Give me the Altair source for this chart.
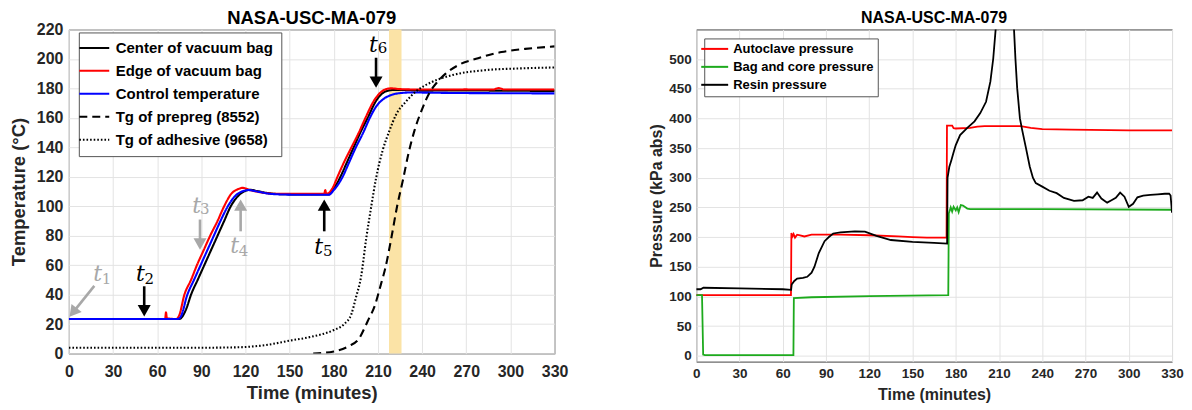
import math
import altair as alt
import pandas as pd

# ---------------- Left panel: temperatures (time in minutes, °C) ----------------
t_center = [0, 30, 60, 75, 77, 80, 83, 87.5, 92, 96.5, 101, 105.5, 110, 115, 120, 123, 128, 135, 145, 160,
            176.5, 180, 184.5, 189, 193.5, 198, 203, 209, 213.5, 217, 222, 240, 270, 300, 330]
T_center = [23.5, 23.5, 23.5, 23.5, 25, 31, 40, 50, 60, 70, 80, 90, 100, 107, 110.5, 111.2, 110.3, 109, 108.2, 108,
            108, 112, 120, 130, 140, 150, 160, 172, 177, 178.5, 179, 178.5, 178.6, 178.4, 178.3]

t_edge = [0, 30, 65.4, 66, 66.6, 73, 75, 78.5, 83, 87, 91.5, 96, 101, 105.5, 110, 116, 118, 123, 130, 140, 150,
          165, 173.5, 174.2, 174.8, 176, 179.5, 182.5, 187, 192, 197, 201.5, 207.5, 211.5, 215, 219, 225, 240,
          270, 288, 292, 296, 330]
T_edge = [23.5, 23.5, 23.5, 28, 24, 23.5, 26, 40, 50, 60, 70, 80, 90, 100, 108, 112, 112.5, 111, 109.5, 108.5, 108.5,
          108.5, 108.5, 111, 108.5, 108.7, 113, 120, 130, 140, 150, 160, 172, 177, 179.3, 180, 179.5, 179.2,
          179.3, 179.2, 180.2, 179.2, 179.2]

t_ctrl = [0, 30, 60, 74, 76, 80.5, 85, 89.5, 94, 98.5, 103, 108, 113, 119, 122, 128, 135, 145, 160, 176.5, 180,
          186, 190.5, 195, 200, 204.5, 209, 214, 219, 225, 232, 260, 300, 330]
T_ctrl = [23.5, 23.5, 23.5, 23.5, 25, 40, 50, 60, 70, 80, 90, 100, 107, 110.5, 111, 110, 108.7, 108, 107.8, 107.8,
          111, 120, 130, 140, 150, 160, 168, 173, 175.5, 176.8, 177.2, 176.9, 176.7, 176.6]

t_tgp = [166, 180, 190, 197, 203, 208, 212, 215, 219, 223, 227, 231, 235, 240, 245, 250, 256, 265, 278, 294, 310, 330]
T_tgp = [0, 1.5, 5, 10, 22, 33, 47, 58, 78, 100, 118, 137, 152, 166, 177, 184, 190, 196, 200.5, 204.7, 206.8, 208.5]

t_tga = [0, 30, 60, 90, 115, 135, 150, 165, 180, 187, 192, 195, 198.5, 202, 205.3, 208.7, 213.2, 217.7, 222.2,
         229, 235.7, 247, 260.5, 283, 305, 330]
T_tga = [4, 4, 4, 4, 4.3, 6, 8.8, 11.5, 16, 20, 27, 38, 52, 78, 99, 119, 138, 151, 162,
         171, 177.8, 184.5, 189, 192.4, 193.5, 194.2]

temp_series = ["Center of vacuum bag", "Edge of vacuum bag", "Control temperature",
               "Tg of prepreg (8552)", "Tg of adhesive (9658)"]

band_start = [217.5]
band_end = [226]

# event arrows t1..t6 (tail and tip, in data units)
arrow_tail_t = [17.3, 51.2, 89.1, 116.7, 173.5, 208.7]
arrow_tail_T = [46, 45.7, 91, 83, 83, 200.8]
arrow_tip_t = [0.5, 51.2, 89.1, 116.7, 173.5, 208.7]
arrow_tip_T = [25, 25.3, 70.6, 104.6, 104.6, 180.4]
arrow_gray = [True, False, True, True, False, False]
label_t = [19.6, 48.6, 86.8, 112.7, 169.7, 206.9]
label_T = [54.3, 54.3, 100, 72.9, 72.3, 209.5]
sub_t = [25.6, 54.6, 92.3, 118.7, 175.9, 213.1]
sub_T = [50.9, 50.9, 97.8, 69.5, 69.6, 207.1]
sub_text = ["1", "2", "3", "4", "5", "6"]

# ---------------- Right panel: pressures (kPa abs) ----------------
t_auto = [0, 30, 65.7, 66, 66.5, 67.5, 68.5, 70, 72, 75, 80, 100, 120, 140, 150, 160, 173.6, 173.9, 177.5,
          178.5, 180, 190, 195, 200, 210, 225, 232, 240, 260, 300, 330]
p_auto = [102, 102, 102, 207, 200, 205, 199, 204, 203, 201, 204, 204, 203, 201, 200, 199, 199, 388, 388,
          383.5, 383, 384, 386, 387, 387, 387, 384, 382, 381, 380, 380]

t_bag = [0, 4, 4.8, 6, 30, 67.4, 67.7, 80, 120, 174.8, 175.2, 176.5, 177.5, 178.5, 180, 181, 182, 183.5,
         185, 188, 190, 240, 330]
p_bag = [102, 102, 2, 1, 1, 1, 97, 98.5, 100.5, 102, 240, 250, 243, 251, 245, 250, 242, 254,
         253, 248, 247, 247, 246]

t_resin = [0, 3, 5, 30, 60, 65.8, 66.2, 68, 70, 74, 77, 80, 82, 85, 89, 92, 95, 100, 110, 117, 125, 135, 150,
           165, 174, 174.3, 175.5, 177, 178.5, 180, 183, 188, 193, 197, 201, 204, 206, 208, 211, 215, 219,
           221.4, 222.6, 224.5, 226, 228.7, 231.3, 233.5, 235.5, 240, 245, 250, 255, 262, 268, 272, 275,
           278, 281, 285, 288, 291, 294, 297, 300, 303, 306, 310, 315, 320, 325, 328, 329, 330]
p_resin = [112, 112, 114.5, 113.5, 112, 111, 120, 126, 130, 131, 133, 140, 150, 173, 193, 200, 206, 208, 209.5,
           209, 202, 195, 192, 190, 189, 300, 318, 330, 343, 355, 372, 384, 395, 409, 428, 462, 501, 560,
           640, 680, 620, 500, 451, 400, 381, 350, 319, 300, 291, 285, 278, 274, 266, 261, 262, 268, 266,
           275, 265, 258, 262, 266, 275, 268, 251, 256, 267, 270, 271, 272, 273, 273, 270, 241]

press_series = ["Autoclave pressure", "Bag and core pressure", "Resin pressure"]

x_ticks = list(range(0, 331, 30))

# ---------------- geometry ----------------
W1, H1 = 487, 325
W2, H2 = 477, 333
GRAY = "#A8A8A8"
FONT = "Liberation Sans"

# ---------------- build tables ----------------
temp_df = pd.concat([
    pd.DataFrame({"t": ts, "v": vs, "series": name})
    for name, ts, vs in zip(temp_series,
                            [t_center, t_edge, t_ctrl, t_tgp, t_tga],
                            [T_center, T_edge, T_ctrl, T_tgp, T_tga])
], ignore_index=True)

press_df = pd.concat([
    pd.DataFrame({"t": ts, "v": vs, "series": name})
    for name, ts, vs in zip(press_series, [t_auto, t_bag, t_resin], [p_auto, p_bag, p_resin])
], ignore_index=True)

band_df = pd.DataFrame({"b0": band_start, "b1": band_end})

# arrow heads: triangle centre set back from the tip along the arrow direction (in screen space)
pxm, pxd = W1 / 330.0, H1 / 220.0
head_h = 5.6
rows = []
for i in range(len(arrow_tip_t)):
    dxp = (arrow_tip_t[i] - arrow_tail_t[i]) * pxm
    dyp = -(arrow_tip_T[i] - arrow_tail_T[i]) * pxd
    L = math.hypot(dxp, dyp)
    ux, uy = dxp / L, dyp / L
    hx = arrow_tip_t[i] - ux * head_h / pxm
    hy = arrow_tip_T[i] + uy * head_h / pxd
    ang = math.degrees(math.atan2(ux, -uy)) % 360
    col = GRAY if arrow_gray[i] else "#000000"
    rows.append({"t0": arrow_tail_t[i], "v0": arrow_tail_T[i], "hx": hx, "hy": hy, "ang": ang,
                 "col": col, "lt": label_t[i], "lv": label_T[i], "st": sub_t[i], "sv": sub_T[i],
                 "sub": sub_text[i]})
ann_df = pd.DataFrame(rows)


def x_enc(field, axis):
    return alt.X(f"{field}:Q", scale=alt.Scale(domain=[0, 330], nice=False, zero=False), axis=axis)


ax_x1 = alt.Axis(values=x_ticks, title="Time (minutes)", labelFontSize=16, titleFontSize=18.5,
                 labelPadding=10, titlePadding=4, labelFlush=False, labelOverlap=False)
ax_y1 = alt.Axis(values=list(range(0, 221, 20)), title="Temperature (°C)", labelFontSize=16,
                 titleFontSize=18.5, labelPadding=6, titlePadding=8, labelOverlap=False)
ax_x2 = alt.Axis(values=x_ticks, title="Time (minutes)", labelFontSize=13.5, titleFontSize=16,
                 labelPadding=5, titlePadding=6, labelFlush=False, labelOverlap=False)
ax_y2 = alt.Axis(values=list(range(0, 501, 50)), title="Pressure (kPa abs)", labelFontSize=13.5,
                 titleFontSize=16, labelPadding=5, titlePadding=4, labelOverlap=False)

y1_scale = alt.Scale(domain=[0, 220], nice=False, zero=False)
y2_scale = alt.Scale(domain=[-10, 550], nice=False, zero=False)


def y1(field):
    return alt.Y(f"{field}:Q", scale=y1_scale, axis=ax_y1)


leg1 = alt.Legend(title=None, orient="none", legendX=10, legendY=3, labelFontSize=15, labelFont=FONT,
                  labelFontWeight="bold", labelColor="#000000", labelLimit=400,
                  symbolType="M-3,0L3,0", symbolSize=100, symbolStrokeWidth=2,
                  strokeColor="#555555", fillColor="white", padding=8, rowPadding=7, labelOffset=14)

band = alt.Chart(band_df).mark_rect(color="#FBE3A6").encode(
    x=x_enc("b0", ax_x1), x2="b1", y=alt.value(0), y2=alt.value(H1))

temp_lines = alt.Chart(temp_df).mark_line(interpolate="monotone", clip=True, strokeWidth=2.1).encode(
    x=x_enc("t", ax_x1),
    y=y1("v"),
    color=alt.Color("series:N", scale=alt.Scale(domain=temp_series,
                    range=["#000000", "#FF0000", "#0000FF", "#000000", "#000000"]), legend=leg1),
    strokeDash=alt.StrokeDash("series:N", scale=alt.Scale(domain=temp_series,
                              range=[[1, 0], [1, 0], [1, 0], [8, 5], [1.6, 2]]), legend=leg1),
)

shafts = alt.Chart(ann_df).mark_rule(strokeWidth=2.6).encode(
    x=x_enc("t0", ax_x1), y=y1("v0"), x2="hx", y2="hy",
    stroke=alt.Stroke("col:N", scale=None))

heads = alt.Chart(ann_df).mark_point(shape="triangle-up", filled=True, size=170, opacity=1).encode(
    x=x_enc("hx", ax_x1), y=y1("hy"), angle=alt.Angle("ang:Q", scale=None),
    fill=alt.Fill("col:N", scale=None))

t_text = alt.Chart(ann_df).mark_text(font="DejaVu Serif", fontStyle="italic", fontSize=22,
                                     baseline="middle", align="center").encode(
    x=x_enc("lt", ax_x1), y=y1("lv"), text=alt.value("t"), fill=alt.Fill("col:N", scale=None))

sub_text_layer = alt.Chart(ann_df).mark_text(font="DejaVu Serif", fontSize=15,
                                             baseline="middle", align="center").encode(
    x=x_enc("st", ax_x1), y=y1("sv"), text="sub:N", fill=alt.Fill("col:N", scale=None))

title_kw = dict(text="NASA-USC-MA-079", font=FONT, fontWeight="bold", color="#000000", anchor="middle")

left = alt.layer(band, temp_lines, shafts, heads, t_text, sub_text_layer).properties(
    width=W1, height=H1, title=alt.TitleParams(fontSize=18.5, offset=-6, **title_kw))

leg2 = alt.Legend(title=None, orient="none", legendX=8, legendY=9, labelFontSize=13, labelFont=FONT,
                  labelFontWeight="bold", labelColor="#000000", labelLimit=400,
                  symbolType="M-3,0L3,0", symbolSize=81, symbolStrokeWidth=2,
                  strokeColor="#555555", fillColor="white", padding=4, rowPadding=4, labelOffset=12)

right = alt.Chart(press_df).mark_line(clip=True, strokeWidth=1.8).encode(
    x=x_enc("t", ax_x2),
    y=alt.Y("v:Q", scale=y2_scale, axis=ax_y2),
    color=alt.Color("series:N", scale=alt.Scale(domain=press_series,
                    range=["#FF0000", "#1DAA1D", "#000000"]), legend=leg2),
).properties(width=W2, height=H2, title=alt.TitleParams(fontSize=16, offset=3, **title_kw))

chart = alt.hconcat(left, right, spacing=142, bounds="flush").resolve_scale(
    color="independent", strokeDash="independent"
).resolve_legend(color="independent", strokeDash="independent").properties(
    padding={"left": 0, "top": 0, "right": 0, "bottom": 0}
).configure_view(stroke="#444444", strokeWidth=1).configure_axis(
    grid=True, gridColor="#E3E3E3", gridWidth=1, ticks=False, tickSize=0, domain=False,
    labelFont=FONT, titleFont=FONT, labelFontWeight="bold", titleFontWeight="bold",
    labelColor="#262626", titleColor="#262626"
)

chart.save("out.html", embed_options={"renderer": "svg", "actions": False})
